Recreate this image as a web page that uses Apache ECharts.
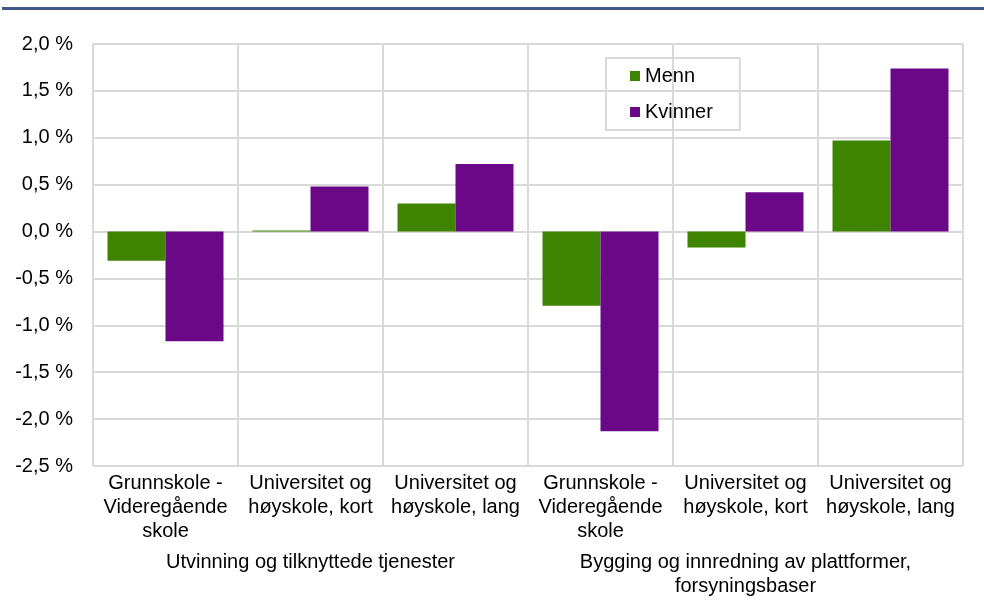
<!DOCTYPE html>
<html>
<head>
<meta charset="utf-8">
<script src="https://cdn.jsdelivr.net/npm/echarts@6/dist/echarts.min.js"></script>
<style>
    html, body { margin: 0; padding: 0; background: #fff; }
    #chart { width: 984px; height: 612px; }
</style>
</head>
<body>
<div id="chart"></div>
<script type="text/javascript">
    // kategorier (utdanning) og næringsgrupper
    var categories = ['Grunnskole -\nVideregående\nskole', 'Universitet og\nhøyskole, kort', 'Universitet og\nhøyskole, lang',
        'Grunnskole -\nVideregående\nskole', 'Universitet og\nhøyskole, kort', 'Universitet og\nhøyskole, lang'];
    var groups = ['Utvinning og tilknyttede tjenester', 'Bygging og innredning av plattformer,\nforsyningsbaser'];
    // endring i prosent
    var menn = [-0.31, 0.01, 0.30, -0.79, -0.17, 0.97];
    var kvinner = [-1.17, 0.48, 0.72, -2.13, 0.42, 1.74];

    var font = '"Liberation Sans", Arial, sans-serif';
    var chart = echarts.init(document.getElementById('chart'));

    var option = {
        animation: false,
        grid: {
            left: 93,
            right: 21,
            top: 44,
            bottom: 146
        },
        legend: {
            orient: 'vertical',
            left: 606,
            top: 58,
            padding: [8, 27, 8, 24],
            borderColor: '#d9d9d9',
            borderWidth: 2,
            itemWidth: 10,
            itemHeight: 10,
            itemGap: 16,
            icon: 'rect',
            textStyle: { fontFamily: font, fontSize: 20, color: '#000' },
            data: ['Menn', 'Kvinner']
        },
        graphic: [{
            type: 'rect',
            shape: { x: 2, y: 7, width: 982, height: 3 },
            style: { fill: '#3e5787' }
        }],
        xAxis: [{
            type: 'category',
            data: categories,
            axisLine: { show: false },
            axisTick: { show: false },
            splitLine: { show: true, interval: 0, lineStyle: { color: '#d9d9d9', width: 2 } },
            axisLabel: {
                interval: 0,
                margin: 5,
                fontFamily: font,
                fontSize: 20,
                lineHeight: 24,
                color: '#000'
            }
        }, {
            type: 'category',
            position: 'bottom',
            offset: 79,
            data: groups,
            axisLine: { show: false },
            axisTick: { show: false },
            splitLine: { show: false },
            axisLabel: {
                interval: 0,
                margin: 5,
                fontFamily: font,
                fontSize: 20,
                lineHeight: 24,
                color: '#000'
            }
        }],
        yAxis: {
            type: 'value',
            min: -2.5,
            max: 2,
            interval: 0.5,
            axisLine: { show: false },
            axisTick: { show: false },
            splitLine: { lineStyle: { color: '#d9d9d9', width: 2 } },
            axisLabel: {
                margin: 20,
                fontFamily: font,
                fontSize: 20,
                color: '#000',
                formatter: function (v) {
                    return v.toFixed(1).replace('.', ',') + ' %';
                }
            }
        },
        series: [{
            name: 'Menn',
            type: 'bar',
            data: menn,
            barGap: '0%',
            barCategoryGap: '20%',
            itemStyle: { color: '#3f8400' }
        }, {
            name: 'Kvinner',
            type: 'bar',
            data: kvinner,
            barGap: '0%',
            barCategoryGap: '20%',
            itemStyle: { color: '#6a0887' }
        }]
    };

    chart.setOption(option);
</script>
</body>
</html>
